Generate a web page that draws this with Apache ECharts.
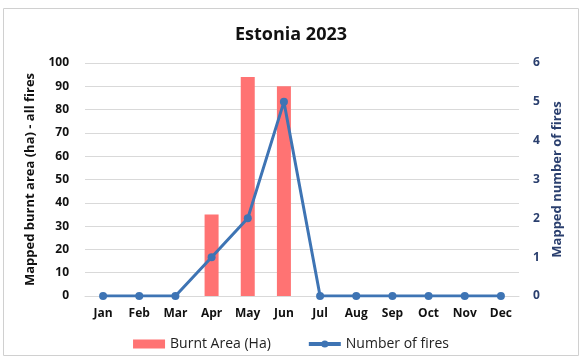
<!DOCTYPE html>
<html><head><meta charset="utf-8">
<script src="https://cdn.jsdelivr.net/npm/echarts@6/dist/echarts.min.js"></script>
<style>html,body{margin:0;padding:0;background:#fff}#c{width:582px;height:360px}</style>
</head><body><div id="c"></div>
<script>
const months = ['Jan','Feb','Mar','Apr','May','Jun','Jul','Aug','Sep','Oct','Nov','Dec'];
const burntArea = [null,null,null,35,94,90,null,null,null,null,null,null];
const numFires = [0,0,0,1,2,5,0,0,0,0,0,0];
const leftTicks = {min:0,max:100,interval:10};
const rightTicks = {min:0,max:6,interval:1};
const F = '"Open Sans", sans-serif';
const chart = echarts.init(document.getElementById('c'));
chart.setOption({
  animation:false,
  graphic:[{type:'rect',shape:{x:3.5,y:8.5,width:575,height:347},style:{fill:'none',stroke:'#d0d0d0',lineWidth:1}}],
  title:{text:'Estonia 2023',left:'center',top:21,textStyle:{fontFamily:F,fontSize:18,fontWeight:'bold',color:'#111'}},
  legend:{bottom:4,left:'center',itemGap:36,itemWidth:32,itemHeight:9,
    textStyle:{fontFamily:F,fontSize:14,color:'#222'},
    data:[{name:'Burnt Area (Ha)',icon:'rect'},{name:'Number of fires',itemStyle:{color:'#3e74b4'},lineStyle:{width:4}}]},
  grid:{left:85,right:63,top:63,bottom:64},
  xAxis:{type:'category',data:months,axisTick:{show:false},
    axisLine:{lineStyle:{color:'#d9d9d9'}},
    axisLabel:{fontFamily:F,fontSize:12,fontWeight:'bold',color:'#111',margin:12}},
  yAxis:[
    {type:'value',min:leftTicks.min,max:leftTicks.max,interval:leftTicks.interval,
     name:'Mapped burnt area (ha) - all fires',nameLocation:'middle',nameGap:48,
     nameTextStyle:{fontFamily:F,fontSize:13,fontWeight:'bold',color:'#111'},
     axisLabel:{fontFamily:F,fontSize:12,fontWeight:'bold',color:'#111',margin:16},
     splitLine:{lineStyle:{color:'#d9d9d9'}},axisLine:{show:false},axisTick:{show:false}},
    {type:'value',min:rightTicks.min,max:rightTicks.max,interval:rightTicks.interval,
     name:'Mapped number of fires',nameLocation:'middle',nameGap:22,nameRotate:90,
     nameTextStyle:{fontFamily:F,fontSize:13,fontWeight:'bold',color:'#2a3f6e'},
     axisLabel:{fontFamily:F,fontSize:12,fontWeight:'bold',color:'#2a3f6e',margin:14},
     splitLine:{show:false},axisLine:{show:false},axisTick:{show:false}}
  ],
  series:[
    {name:'Burnt Area (Ha)',type:'bar',data:burntArea,barWidth:14,itemStyle:{color:'#ff7373'}},
    {name:'Number of fires',type:'line',yAxisIndex:1,data:numFires,symbol:'circle',symbolSize:8,
     lineStyle:{color:'#3e74b4',width:3},itemStyle:{color:'#3e74b4'}}
  ]
});
</script></body></html>
